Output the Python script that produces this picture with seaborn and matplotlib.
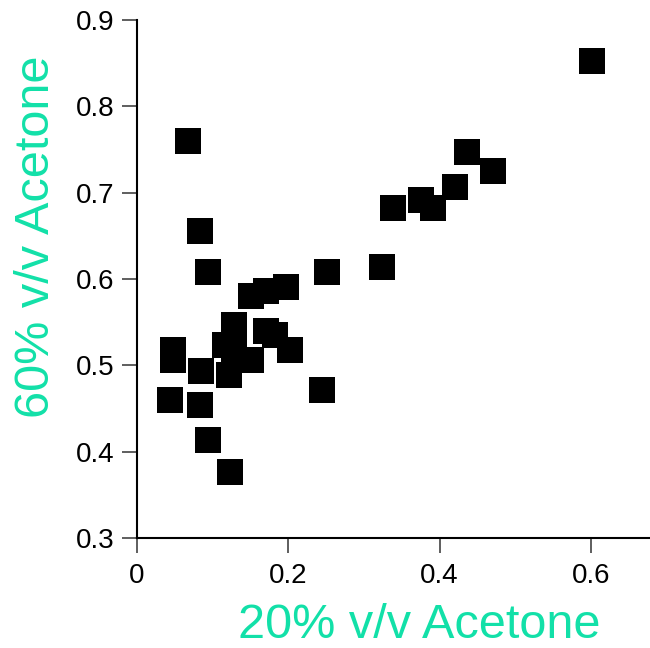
import matplotlib
matplotlib.use("Agg")
import matplotlib.pyplot as plt
import seaborn as sns
import pandas as pd

# Data
acetone_20 = [0.602, 0.436, 0.470, 0.420, 0.375, 0.392, 0.338, 0.324, 0.252,
              0.197, 0.171, 0.151, 0.094, 0.084, 0.068, 0.128, 0.171, 0.183,
              0.202, 0.117, 0.129, 0.151, 0.122, 0.048, 0.048, 0.085, 0.044,
              0.084, 0.094, 0.123, 0.245]
acetone_60 = [0.852, 0.747, 0.725, 0.707, 0.691, 0.682, 0.682, 0.614, 0.608,
              0.591, 0.586, 0.580, 0.608, 0.656, 0.760, 0.547, 0.540, 0.535,
              0.518, 0.523, 0.519, 0.506, 0.489, 0.518, 0.506, 0.494, 0.460,
              0.454, 0.414, 0.376, 0.471]
x_ticks = [0, 0.2, 0.4, 0.6]
x_tick_labels = ["0", "0.2", "0.4", "0.6"]
y_ticks = [0.3, 0.4, 0.5, 0.6, 0.7, 0.8, 0.9]
y_tick_labels = ["0.3", "0.4", "0.5", "0.6", "0.7", "0.8", "0.9"]

df = pd.DataFrame({"x": acetone_20, "y": acetone_60})

sns.set_style("ticks")
plt.rcParams["font.family"] = ["Liberation Sans", "DejaVu Sans"]

label_color = "#12e0a8"

fig = plt.figure(figsize=(6.5, 6.48), dpi=100)
ax = fig.add_axes([136.7 / 650, 110 / 648, (650 - 136.7) / 650, (538 - 20) / 648])

sns.scatterplot(data=df, x="x", y="y", marker="s", color="black", s=330,
                linewidth=0, ax=ax, zorder=3, clip_on=False)

ax.set_xlim(0, 0.678)
ax.set_ylim(0.3, 0.9)
ax.set_xticks(x_ticks)
ax.set_xticklabels(x_tick_labels)
ax.set_yticks(y_ticks)
ax.set_yticklabels(y_tick_labels)

for side in ["top", "right"]:
    ax.spines[side].set_visible(False)
for side in ["left", "bottom"]:
    ax.spines[side].set_linewidth(1.5)
    ax.spines[side].set_color("black")

ax.tick_params(axis="both", direction="out", length=11, width=1.1,
               color="#333333", labelsize=20, labelcolor="black")
ax.tick_params(axis="x", pad=7)
ax.tick_params(axis="y", pad=5)

ax.set_xlabel("20% v/v Acetone", fontsize=35, color=label_color)
ax.set_ylabel("60% v/v Acetone", fontsize=35, color=label_color)
ax.xaxis.label.set_va("center")
ax.yaxis.label.set_va("center")
ax.xaxis.set_label_coords((419 - 136.7) / 513.3, (538 - 626) / 518)
ax.yaxis.set_label_coords((37 - 136.7) / 513.3, (538 - 237) / 518)

fig.savefig("out.png", dpi=100)
